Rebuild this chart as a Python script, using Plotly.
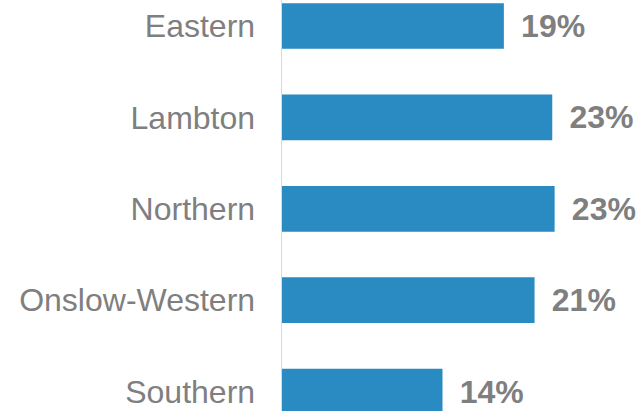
import plotly.graph_objects as go

categories = ["Eastern", "Lambton", "Northern", "Onslow-Western", "Southern"]
values = [18.8, 22.9, 23.1, 21.4, 13.6]

fig = go.Figure(
    go.Bar(
        x=values,
        y=categories,
        orientation="h",
        marker=dict(color="#2A8AC2", line=dict(width=0)),
        texttemplate="\u00a0\u2006%{x:.0f}%",
        textposition="outside",
        textfont=dict(family="Liberation Sans, Arial, sans-serif", size=32, color="#7F7F7F", weight="bold"),
        constraintext="none",
        cliponaxis=False,
        hoverinfo="skip",
    )
)

fig.update_layout(
    width=639,
    height=411,
    margin=dict(l=282, r=0, t=0, b=0),
    paper_bgcolor="white",
    plot_bgcolor="white",
    bargap=0.5,
    showlegend=False,
    hovermode=False,
    font=dict(family="Liberation Sans, Arial, sans-serif", size=32, color="#7F7F7F"),
)
fig.update_xaxes(range=[0, 30.25], visible=False, showgrid=False, zeroline=False)
fig.update_yaxes(
    categoryorder="array",
    categoryarray=categories,
    range=[4.212, -0.2845],
    showline=True,
    linecolor="#D9D9D9",
    linewidth=1.5,
    showgrid=False,
    zeroline=False,
    ticks="",
    ticklabelstandoff=19,
    tickfont=dict(size=32, color="#7F7F7F"),
)

fig.write_html(
    "out.html",
    config={"displayModeBar": False, "staticPlot": True},
    post_script="document.body.style.margin='0';document.body.style.overflow='hidden';",
)
